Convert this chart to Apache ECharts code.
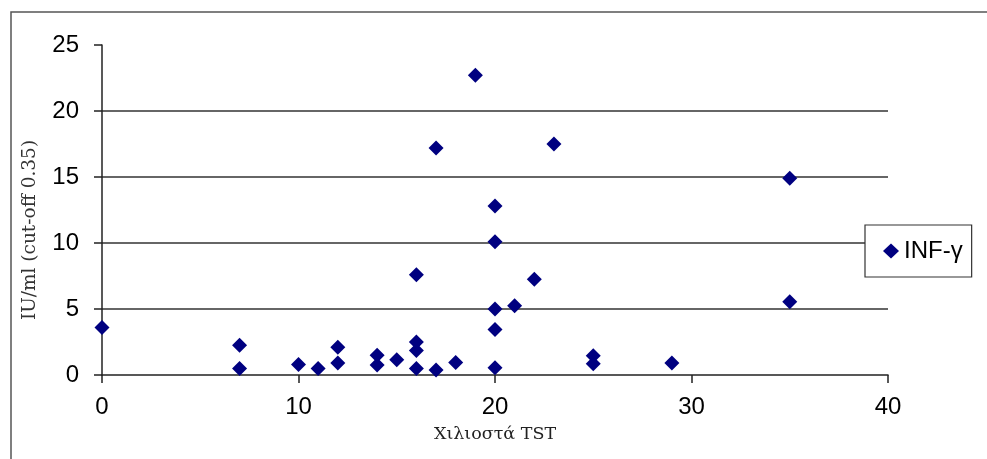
<!DOCTYPE html>
<html>
<head>
<meta charset="utf-8">
<script src="https://cdn.jsdelivr.net/npm/echarts@6/dist/echarts.min.js"></script>
<style>
  html, body { margin: 0; padding: 0; background: #fff; }
  #chart { width: 987px; height: 459px; }
</style>
</head>
<body>
<div id="chart"></div>
<script>
// TST induration (mm) and IFN-γ response (IU/ml) per subject
const tstMm = [0, 7, 7, 10, 11, 12, 12, 14, 14, 15, 16, 16, 16, 16, 17, 17, 18, 19, 20, 20, 20, 20, 20, 21, 22, 23, 25, 25, 29, 35, 35];
const ifnGamma = [3.6, 2.25, 0.5, 0.8, 0.5, 2.1, 0.9, 1.5, 0.75, 1.15, 7.6, 2.5, 1.85, 0.5, 17.2, 0.38, 0.95, 22.7, 12.8, 10.1, 5.0, 3.45, 0.55, 5.25, 7.25, 17.5, 1.45, 0.85, 0.9, 14.9, 5.55];
const seriesName = 'INF-γ';
const xTitle = 'Χιλιοστά TST';
const yTitle = 'IU/ml (cut-off 0.35)';

const points = tstMm.map((x, i) => [x, ifnGamma[i]]);

const chart = echarts.init(document.getElementById('chart'), null, { renderer: 'canvas' });

chart.setOption({
  backgroundColor: '#fff',
  animation: false,
  grid: { left: 102, right: 99, top: 45, bottom: 84 },
  legend: {
    data: [seriesName],
    left: 865,
    top: 225,
    orient: 'vertical',
    icon: 'diamond',
    itemWidth: 16,
    itemHeight: 15,
    itemGap: 4,
    padding: [14, 9, 14, 18],
    backgroundColor: '#fff',
    borderColor: '#333',
    borderWidth: 1.2,
    textStyle: { fontFamily: 'Liberation Sans, Arial, sans-serif', fontSize: 24, color: '#000' }
  },
  xAxis: {
    type: 'value',
    min: 0,
    max: 40,
    interval: 10,
    name: xTitle,
    nameLocation: 'middle',
    nameGap: 50,
    nameTextStyle: { fontFamily: 'DejaVu Serif, serif', fontSize: 17.5, color: '#222' },
    axisLine: { show: true, onZero: false, lineStyle: { color: '#222', width: 1.5 } },
    axisTick: { show: true, length: 8, lineStyle: { color: '#222', width: 1.5 } },
    axisLabel: { margin: 20, fontFamily: 'Liberation Sans, Arial, sans-serif', fontSize: 24, color: '#000' },
    splitLine: { show: false }
  },
  yAxis: {
    type: 'value',
    min: 0,
    max: 25,
    interval: 5,
    axisLine: { show: true, onZero: false, lineStyle: { color: '#222', width: 1.5 } },
    axisTick: { show: true, length: 8, lineStyle: { color: '#222', width: 1.5 } },
    axisLabel: { margin: 23, fontFamily: 'Liberation Sans, Arial, sans-serif', fontSize: 24, color: '#000' },
    splitLine: {
      show: true,
      showMinLine: false,
      showMaxLine: false,
      lineStyle: { color: '#333', width: 1.5 }
    }
  },
  graphic: [
    {
      type: 'rect',
      silent: true,
      shape: { x: 11, y: 12, width: 1100, height: 600 },
      style: { fill: 'none', stroke: '#555', lineWidth: 1.5 }
    },
    {
      type: 'text',
      silent: true,
      x: 30,
      y: 230,
      rotation: Math.PI / 2,
      style: {
        text: yTitle,
        fontFamily: 'DejaVu Serif, serif',
        fontSize: 18.5,
        fill: '#333',
        align: 'center',
        verticalAlign: 'middle'
      }
    }
  ],
  series: [
    {
      name: seriesName,
      type: 'scatter',
      symbol: 'diamond',
      symbolSize: 15,
      itemStyle: { color: '#000080', opacity: 1 },
      data: points
    }
  ]
});
</script>
</body>
</html>
